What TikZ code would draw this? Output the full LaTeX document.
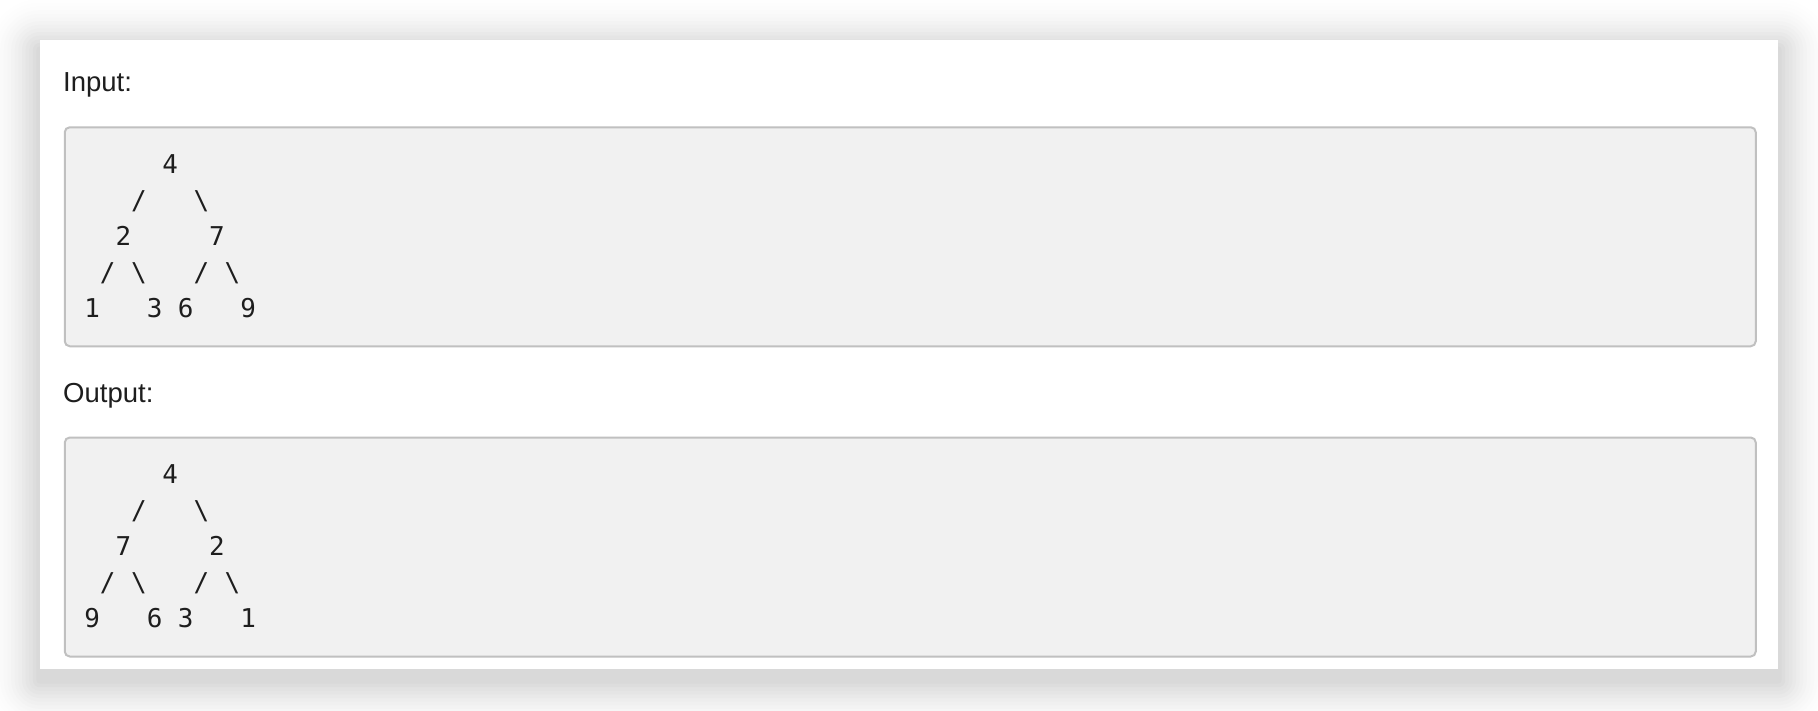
\documentclass[tikz,border=0pt]{standalone}
\usepackage{fontspec}
\setmainfont{Liberation Sans}
\newfontfamily\codefont{DejaVu Sans Mono}
\usepackage{tikz}
\usetikzlibrary{positioning}
\definecolor{cardtext}{HTML}{1E1E1E}
\definecolor{codebg}{HTML}{F1F1F1}
\definecolor{codeborder}{HTML}{C0C0C0}

\begin{document}
\begin{tikzpicture}[
    x=1pt, y=-1pt,
    card/.style={rectangle, fill=white, minimum width=1738pt, minimum height=629pt, inner sep=0pt},
    codebox/.style={rectangle, draw=codeborder, line width=2pt, fill=codebg, rounded corners=5pt, minimum width=1691pt, minimum height=219pt, inner sep=0pt},
    caption/.style={anchor=base west, inner sep=0pt, text=cardtext, font=\fontsize{27.5}{30}\selectfont},
    codeline/.style={anchor=base west, inner sep=0pt, text=cardtext, font=\codefont\fontsize{25.9}{36}\selectfont}
]
    \useasboundingbox[fill=white] (0,0) rectangle (1818,710);

    % Soft shadow under the card
    \foreach \s [evaluate=\s as \shade using {15*((15-\s)/14)^1.7}] in {14,13,...,1}
        \fill[black!\shade, rounded corners=3.6*\s pt] (40-3.6*\s, 50-3.6*\s) rectangle (1778+3.6*\s, 680+3.6*\s);

    % Card
    \node[card] (sheet) at (909,354.5) {};

    % Input block
    \node[caption] (inlabel) at (63,91.5) {Input:};
    \node[codebox] (inbox) at (910.25,236.75) {};
    \node[codeline] (in1) at (84.2,173.5) {~~~~~4};
    \node[codeline] (in2) at (84.2,209.5) {~~~/~~~\textbackslash};
    \node[codeline] (in3) at (84.2,245.5) {~~2~~~~~7};
    \node[codeline] (in4) at (84.2,281.5) {~/~\textbackslash~~~/~\textbackslash};
    \node[codeline] (in5) at (84.2,317.5) {1~~~3~6~~~9};

    % Output block
    \node[caption] (outlabel) at (63,402.5) {Output:};
    \node[codebox] (outbox) at (910.25,547) {};
    \node[codeline] (out1) at (84.2,483.5) {~~~~~4};
    \node[codeline] (out2) at (84.2,519.5) {~~~/~~~\textbackslash};
    \node[codeline] (out3) at (84.2,555.5) {~~7~~~~~2};
    \node[codeline] (out4) at (84.2,591.5) {~/~\textbackslash~~~/~\textbackslash};
    \node[codeline] (out5) at (84.2,627.5) {9~~~6~3~~~1};
\end{tikzpicture}
\end{document}
